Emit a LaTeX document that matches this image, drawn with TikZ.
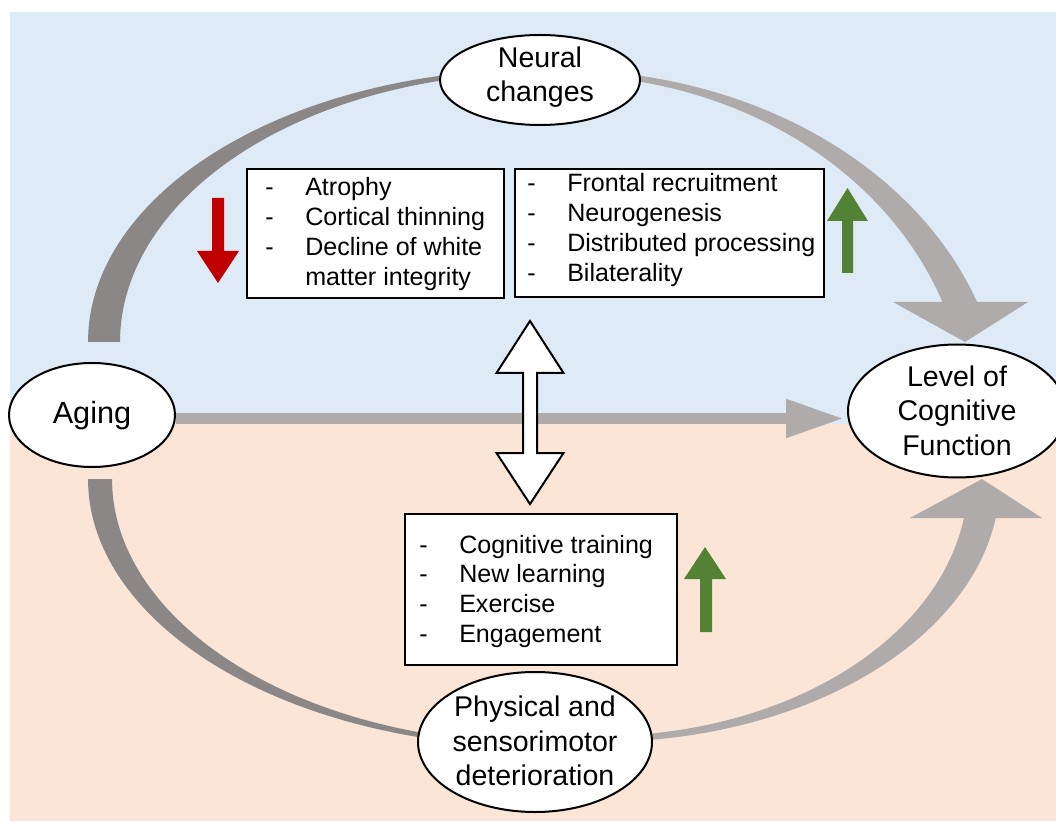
\documentclass[tikz,border=0pt]{standalone}
\usepackage{fontspec}
\setmainfont{Liberation Sans}
\usetikzlibrary{shapes.geometric,arrows.meta,calc}

\definecolor{bgblue}{HTML}{DEEBF7}
\definecolor{bgpeach}{HTML}{FBE5D6}
\definecolor{darkband}{HTML}{8B8787}
\definecolor{lightband}{HTML}{AFABAB}
\definecolor{upgreen}{HTML}{548235}
\definecolor{downred}{HTML}{C00000}

\pgfdeclarelayer{back}
\pgfdeclarelayer{links}
\pgfsetlayers{back,links,main}

\begin{document}
\begin{tikzpicture}[x=0.75pt,y=-0.75pt,
  oval/.style={draw=black, line width=1.5pt, fill=white, ellipse, inner sep=0pt},
  ovaltext/.style={align=center, inner sep=0pt, font=\fontsize{21.4pt}{25.9pt}\selectfont},
  listbox/.style={draw=black, line width=1.5pt, fill=white, rectangle, inner sep=0pt},
  listtext/.style={anchor=base west, inner sep=0pt, font=\fontsize{18.8pt}{22.3pt}\selectfont},
  band/.style={draw=none},
  blockarrow/.style={draw=none},
]
\useasboundingbox (0,0) rectangle (1056,823);

% ---------- nodes ----------
\node[oval, minimum width=150pt, minimum height=67.5pt] (neural) at (540,80) {};
\node[ovaltext] (neural-t) at (540,77) {Neural\\changes};

\node[oval, minimum width=124.5pt, minimum height=78pt] (aging) at (92,415) {};
\node[ovaltext, font=\fontsize{23pt}{27pt}\selectfont] (aging-t) at (92,416) {Aging};

\node[oval, minimum width=163.5pt, minimum height=99.75pt] (level) at (957,411) {};
\node[ovaltext] (level-t) at (957,410.5) {Level of\\Cognitive\\Function};

\node[oval, minimum width=175.5pt, minimum height=105pt] (phys) at (535,742) {};
\node[ovaltext] (phys-t) at (535,741) {Physical and\\sensorimotor\\deterioration};

% list boxes
\node[listbox, minimum width=192.75pt, minimum height=96.75pt] (loss) at (375.5,233.5) {};
\node[listtext] (loss-t) at (265,196) {\begin{tabular}[t]{@{}p{30pt}@{}l@{}}
-&Atrophy\\
-&Cortical thinning\\
-&Decline of white\\
&matter integrity
\end{tabular}};

\node[listbox, minimum width=231.75pt, minimum height=96pt] (gain) at (669.5,233) {};
\node[listtext] (gain-t) at (527,192) {\begin{tabular}[t]{@{}p{30pt}@{}l@{}}
-&Frontal recruitment\\
-&Neurogenesis\\
-&Distributed processing\\
-&Bilaterality
\end{tabular}};

\node[listbox, minimum width=204pt, minimum height=113.25pt] (train) at (541,589.5) {};
\node[listtext] (train-t) at (419,553) {\begin{tabular}[t]{@{}p{30pt}@{}l@{}}
-&Cognitive training\\
-&New learning\\
-&Exercise\\
-&Engagement
\end{tabular}};

% double-headed block arrow between the neural lists and the training list
\draw[line width=1.5pt, fill=white, line join=miter]
  (530,321) -- (563.5,373) -- (537,373) -- (537,453) -- (563.5,453) -- (530,504)
  -- (496.5,453) -- (523,453) -- (523,373) -- (496.5,373) -- cycle;

% decrease / increase markers
\fill[downred] (212,198) -- (224,198) -- (224,251) -- (239,251) -- (218,283)
  -- (197,251) -- (212,251) -- cycle;
\fill[upgreen] (842,273) -- (853,273) -- (853,221) -- (868,221) -- (847.5,188)
  -- (827,221) -- (842,221) -- cycle;
\fill[upgreen] (700,632) -- (712,632) -- (712,579) -- (726,579) -- (705,547)
  -- (684,579) -- (700,579) -- cycle;

% ---------- background ----------
\begin{pgfonlayer}{back}
  \fill[white] (0,0) rectangle (1056,823);
  \fill[bgblue] (10,12) rectangle (1056,424);
  \fill[bgpeach] (10,424) rectangle (1056,821);
\end{pgfonlayer}

% ---------- tapered curved connectors ----------
\begin{pgfonlayer}{links}
  % Aging -> Neural changes
  \fill[darkband]
    plot[domain=180:260, samples=70, variable=\t] ({540+452*cos(\t)},{342+273*sin(\t)})
    -- plot[domain=260:180, samples=70, variable=\t] ({540+420*cos(\t)},{342+269*sin(\t)})
    -- cycle;
  % Neural changes -> Level of Cognitive Function
  \fill[lightband]
    plot[domain=278:340.3, samples=70, variable=\t] ({560+443*cos(\t)},{420+350*sin(\t)})
    -- plot[domain=340:278, samples=70, variable=\t] ({560+407*cos(\t)},{420+345*sin(\t)})
    -- cycle;
  \fill[lightband] (893,302) -- (1028,302) -- (965,342) -- cycle;
  % Aging -> Physical and sensorimotor deterioration
  \fill[darkband]
    plot[domain=180:100, samples=70, variable=\t] ({540+452*cos(\t)},{479+268*sin(\t)})
    -- plot[domain=100:180, samples=70, variable=\t] ({540+428*cos(\t)},{479+264*sin(\t)})
    -- cycle;
  % Physical and sensorimotor deterioration -> Level of Cognitive Function
  \fill[lightband]
    plot[domain=100:8.34, samples=70, variable=\t] ({600+400*cos(\t)},{480+262*sin(\t)})
    -- plot[domain=8.54:100, samples=70, variable=\t] ({600+368*cos(\t)},{480+256*sin(\t)})
    -- cycle;
  \fill[lightband] (910,518) -- (1042,518) -- (982,479) -- cycle;
  % Aging -> Level of Cognitive Function
  \coordinate (midline) at (0,418.5);
  \draw[lightband, line width=8.25pt, -{Triangle[width=27pt,length=43.5pt]}, shorten >=2.25pt]
    (aging.east |- midline) -- (level.west |- midline);
\end{pgfonlayer}
\end{tikzpicture}
\end{document}
